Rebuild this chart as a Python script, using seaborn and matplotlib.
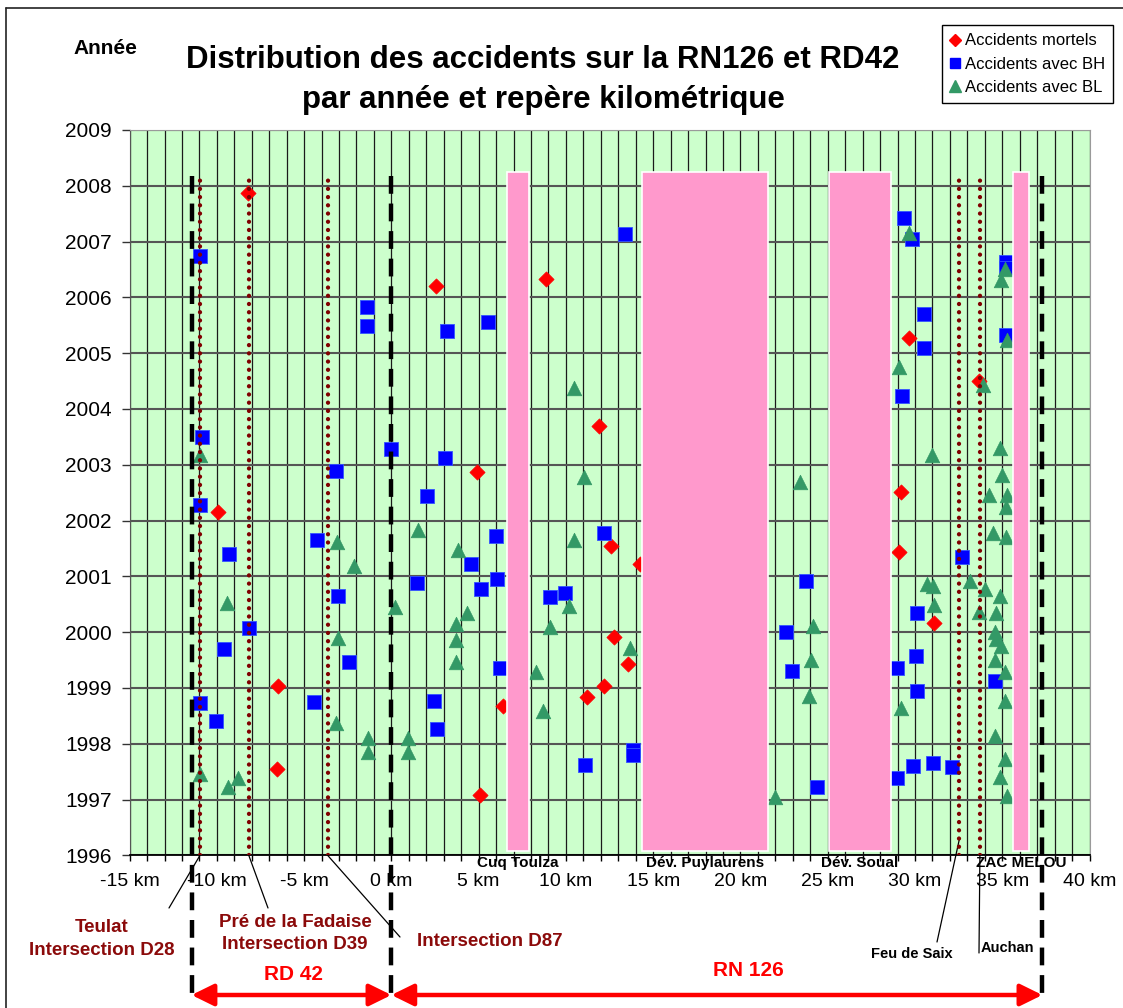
import numpy as np
import pandas as pd
import seaborn as sns
import matplotlib.pyplot as plt
from matplotlib.lines import Line2D
from matplotlib.patches import ArrowStyle

# Accidents mortels (repère km, année)
mort_km = [-8.20, 2.56, 8.84, 11.90, 4.89, -9.92, 12.59, 14.25, 12.78, 13.54, 12.19,
           11.23, -6.48, 6.42, -6.54, 5.10, 29.67, 33.64, 29.22, 29.09, 31.10]
mort_an = [2007.87, 2006.21, 2006.33, 2003.70, 2002.87, 2002.16, 2001.55, 2001.23, 1999.91, 1999.43, 1999.04,
           1998.84, 1999.04, 1998.67, 1997.55, 1997.08, 2005.28, 2004.50, 2002.51, 2001.43, 2000.17]

# Accidents avec blessés hospitalisés
bh_km = [-10.97, -1.40, -1.40, -10.87, -3.19, -0.04, 2.05, -10.97, -4.24, -9.30, 1.45,
         -3.04, -8.17, -9.61, -2.43, -10.95, -4.45, -10.05, 13.39, 3.17, 5.56, 3.07,
         6.00, 4.56, 6.05, 5.12, 6.23, 2.43, 2.62, 12.19, 9.07, 9.95, 11.08, 13.87,
         13.87, 29.38, 29.82, 35.22, 35.22, 30.51, 30.51, 35.21, 29.25, 32.72, 23.76,
         30.10, 22.60, 30.05, 28.99, 22.96, 34.59, 30.10, 29.89, 31.02, 32.13, 28.96, 24.38]
bh_an = [2006.75, 2005.82, 2005.49, 2003.49, 2002.89, 2003.28, 2002.44, 2002.28, 2001.65, 2001.41, 2000.89,
         2000.64, 2000.08, 1999.70, 1999.46, 1998.73, 1998.75, 1998.41, 2007.14, 2005.40, 2005.56, 2003.13,
         2001.72, 2001.22, 2000.96, 2000.77, 1999.36, 1998.77, 1998.27, 2001.77, 2000.63, 2000.71, 1997.62, 1997.88,
         1997.80, 2007.42, 2007.04, 2006.64, 2006.52, 2005.71, 2005.09, 2005.33, 2004.23, 2001.34, 2000.92,
         2000.34, 2000.00, 1999.58, 1999.36, 1999.31, 1999.13, 1998.95, 1997.61, 1997.65, 1997.58, 1997.39, 1997.22]

# Accidents avec blessés légers
bl_km = [-10.95, -3.11, -2.14, 1.52, -9.44, 0.23, -3.04, -3.19, -1.32, -1.32, 0.94,
         0.94, -10.95, -8.77, -9.38, 10.49, 11.06, 3.84, 4.35, 3.69, 3.69, 3.69,
         10.49, 10.18, 9.07, 13.69, 8.27, 8.67, 29.67, 35.13, 34.92, 35.26, 29.09,
         33.92, 30.95, 34.88, 34.98, 23.40, 34.23, 35.26, 35.20, 34.49, 35.22, 30.68,
         31.02, 33.16, 34.02, 34.88, 31.10, 33.64, 34.67, 24.13, 34.59, 34.63, 34.92,
         24.07, 34.59, 35.17, 23.93, 35.17, 29.22, 34.59, 35.17, 34.88, 35.26, 21.99]
bl_an = [2003.18, 2001.62, 2001.19, 2001.83, 2000.53, 2000.46, 1999.90, 1998.38, 1998.10, 1997.85, 1998.10,
         1997.85, 1997.46, 1997.38, 1997.22, 2004.37, 2002.79, 2001.47, 2000.34, 2000.15, 1999.86, 1999.47,
         2001.66, 2000.47, 2000.09, 1999.71, 1999.28, 1998.59, 2007.15, 2006.50, 2006.32, 2005.24, 2004.75,
         2004.43, 2003.18, 2003.30, 2002.82, 2002.70, 2002.46, 2002.46, 2002.25, 2001.77, 2001.71, 2000.86,
         2000.82, 2000.92, 2000.77, 2000.65, 2000.48, 2000.36, 2000.34, 2000.11, 2000.01, 1999.87, 1999.75,
         1999.50, 1999.50, 1999.29, 1998.86, 1998.77, 1998.65, 1998.14, 1997.72, 1997.41, 1997.06, 1997.05]

# zones de déviation (roses)
dev_nom = ['Cuq Toulza', 'Dév. Puylaurens', 'Dév. Soual', 'ZAC MELOU']
dev_debut = [6.6, 14.35, 25.05, 35.6]
dev_fin = [7.9, 21.6, 28.65, 36.55]
dev_bas, dev_haut = 1996.07, 2008.25

limites_routes = [-11.45, 0.0, 37.3]          # tirets noirs
reperes = [-10.97, -8.17, -3.65, 32.55, 33.72]  # pointillés

km_ticks = list(range(-15, 41, 5))
annees = list(range(1996, 2010))

W, H = 1123, 1008
def fx(px):
    return px / W
def fy(py):
    return 1 - py / H

sns.set_style('white', {'axes.facecolor': '#CCFFCC'})
plt.rcParams['font.family'] = ['Liberation Sans', 'DejaVu Sans']
plt.rcParams['text.color'] = 'black'
plt.rcParams['xtick.color'] = 'black'
plt.rcParams['ytick.color'] = 'black'
plt.rcParams['xtick.labelcolor'] = 'black'
plt.rcParams['ytick.labelcolor'] = 'black'

rouge, bleu, vert = '#FF0000', '#0000FF', '#339966'
brun = '#800000'
texte_brun = '#8B0A0A'

fig = plt.figure(figsize=(W / 100, H / 100), dpi=100)
ax = fig.add_axes([fx(129.6), fy(855.4), fx(1089.5) - fx(129.6), fy(130) - fy(855.4)])

df_m = pd.DataFrame({'km': mort_km, 'annee': mort_an})
df_bh = pd.DataFrame({'km': bh_km, 'annee': bh_an})
df_bl = pd.DataFrame({'km': bl_km, 'annee': bl_an})

sns.scatterplot(data=df_m, x='km', y='annee', marker='D', s=60, color=rouge,
                edgecolor=rouge, linewidth=0.5, ax=ax, zorder=3, legend=False)
sns.scatterplot(data=df_bh, x='km', y='annee', marker='s', s=100, color=bleu,
                edgecolor='#3355FF', linewidth=0.6, ax=ax, zorder=3, legend=False)
sns.scatterplot(data=df_bl, x='km', y='annee', marker='^', s=110, color=vert,
                edgecolor=vert, linewidth=0.5, ax=ax, zorder=3, legend=False)

# zones roses
ax.bar(dev_debut, dev_haut - dev_bas, width=np.array(dev_fin) - np.array(dev_debut),
       bottom=dev_bas, align='edge', color='#FF99CC', edgecolor='white', linewidth=1.2, zorder=4)

ax.set_xlim(-15, 40)
ax.set_ylim(1996, 2009)
ax.set_xticks(km_ticks)
ax.set_xticklabels([f'{k} km' for k in km_ticks])
ax.set_xticks(np.arange(-15, 41, 1), minor=True)
ax.set_yticks(annees)
ax.set_xlabel('')
ax.set_ylabel('')
ax.tick_params(axis='x', which='both', direction='out', length=4, width=1, pad=9,
               labelsize=14, bottom=True, color='black')
ax.tick_params(axis='y', direction='out', length=6, width=1, pad=7, labelsize=15,
               left=True, color='#333333')
ax.set_axisbelow(True)
ax.grid(axis='x', which='both', color='#1a1a1a', lw=0.9)
ax.grid(axis='y', which='major', color='#555555', lw=1.5)
for s in ['top', 'right']:
    ax.spines[s].set_color('#9a9a9a')
ax.spines['left'].set_color('#555555')
ax.spines['bottom'].set_color('black')
ax.spines['bottom'].set_linewidth(1.3)

# lignes de repères
for k in reperes:
    ax.plot([k, k], [1996, 2008.2], color=brun, lw=3.1, ls=(0, (0.01, 1.9)),
            dash_capstyle='round', zorder=5)

y_bas = ax.transData.inverted().transform((0, H - 1002))[1]
for k in limites_routes:
    ax.plot([k, k], [2008.18, y_bas], color='black', lw=3.2, ls=(0, (4.0, 2.2)),
            zorder=6, clip_on=False)

# noms des zones sous l'axe
for nom, a, b in zip(dev_nom, dev_debut, dev_fin):
    ax.annotate(nom, xy=((a + b) / 2, 0), xycoords=('data', 'figure fraction'),
                xytext=((a + b) / 2, fy(863)), textcoords=('data', 'figure fraction'),
                ha='center', va='center', fontsize=11, fontweight='bold',
                annotation_clip=False)

# traits de rappel
rappels = [(-10.97, 1996.0, 169, 908), (-8.17, 1996.0, 268, 908), (-3.65, 1996.0, 400, 937),
           (32.55, 1996.3, 937, 942), (33.72, 1996.0, 979, 953)]
for k, a, px, py in rappels:
    ax.annotate('', xy=(k, a), xycoords='data', xytext=(fx(px), fy(py)),
                textcoords='figure fraction',
                arrowprops=dict(arrowstyle='-', color='black', lw=0.9, shrinkA=0, shrinkB=0),
                annotation_clip=False)

fig.text(fx(102), fy(939), 'Teulat\nIntersection D28', ha='center', va='center',
         fontsize=13.5, fontweight='bold', color=texte_brun, linespacing=1.45)
fig.text(fx(295), fy(933.5), 'Pré de la Fadaise\nIntersection D39', ha='center', va='center',
         fontsize=13.5, fontweight='bold', color=texte_brun, linespacing=1.4)
fig.text(fx(490), fy(941), 'Intersection D87', ha='center', va='center',
         fontsize=13.5, fontweight='bold', color=texte_brun)
fig.text(fx(912), fy(954), 'Feu de Saix', ha='center', va='center',
         fontsize=10.5, fontweight='bold', color='black')
fig.text(fx(981), fy(948), 'Auchan', ha='left', va='center',
         fontsize=10.5, fontweight='bold', color='black')
fig.text(fx(293), fy(975), 'RD 42', ha='center', va='center',
         fontsize=15, fontweight='bold', color=rouge)
fig.text(fx(748), fy(971), 'RN 126', ha='center', va='center',
         fontsize=15, fontweight='bold', color=rouge)

# flèches des tronçons
fleche = ArrowStyle('<|-|>', head_length=0.67, head_width=0.33)
for a, b in [(limites_routes[0], limites_routes[1]), (limites_routes[1], limites_routes[2])]:
    ax.annotate('', xy=(b, fy(995)), xycoords=('data', 'figure fraction'),
                xytext=(a, fy(995)), textcoords=('data', 'figure fraction'),
                arrowprops=dict(arrowstyle=fleche, color=rouge, lw=3.2, mutation_scale=20,
                                shrinkA=0, shrinkB=0),
                annotation_clip=False)

# titre
fig.text(fx(543), fy(80), 'Distribution des accidents sur la RN126 et RD42\npar année et repère kilométrique',
         ha='center', va='center', fontsize=22.5, fontweight='bold', linespacing=1.45, color='black')
fig.text(fx(105), fy(48), 'Année', ha='center', va='center', fontsize=15, fontweight='bold')

# légende
handles = [Line2D([], [], marker='D', ls='none', color=rouge, markersize=6.5),
           Line2D([], [], marker='s', ls='none', color=bleu, markersize=7.5),
           Line2D([], [], marker='^', ls='none', color=vert, markersize=8.5)]
labels = ['Accidents mortels', 'Accidents avec BH', 'Accidents avec BL']
leg = fig.legend(handles, labels, loc='upper right', bbox_to_anchor=(fx(1113), fy(25)),
                 frameon=True, fancybox=False, edgecolor='black', facecolor='white', framealpha=1,
                 fontsize=12, handlelength=0.6, handletextpad=0.25, labelspacing=0.5,
                 borderpad=0.5, borderaxespad=0)
leg.get_frame().set_linewidth(1.0)

# cadre du graphique
fig.add_artist(Line2D([fx(6), 1], [fy(8), fy(8)], transform=fig.transFigure, color='#222222', lw=1.2))
fig.add_artist(Line2D([fx(6), fx(6)], [fy(8), 0], transform=fig.transFigure, color='#222222', lw=1.2))

fig.savefig('out.png', dpi=100)
